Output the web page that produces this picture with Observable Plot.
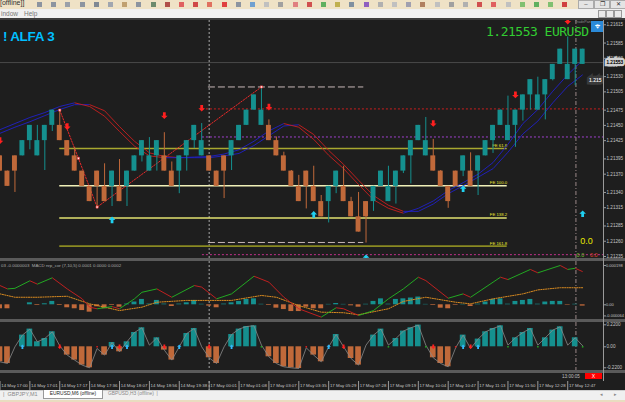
<!DOCTYPE html>
<html><head><meta charset="utf-8">
<script src="https://cdn.jsdelivr.net/npm/d3@7"></script>
<script src="https://cdn.jsdelivr.net/npm/@observablehq/plot@0.6"></script>
<style>
html,body{margin:0;padding:0;width:625px;height:402px;overflow:hidden;background:#1e1e1e;font-family:"Liberation Sans",Arial,sans-serif;}
.a{position:absolute;}
.wrap{position:absolute;left:0;width:625px;overflow:hidden;}
.wrap svg{display:block;background:transparent;}
</style></head><body>
<div class="a" style="left:0;top:0;width:625px;height:9px;background:#efe2c6;"></div>
<div class="a" id="icons" style="left:0;top:0;width:625px;height:9px;"></div>
<div class="a" style="left:0;top:-1px;font-size:7px;color:#333;">[offline]]</div>
<div class="a" style="left:578px;top:0;width:14px;height:7px;background:#e4e4e4;border:1px solid #aaa;font-size:6px;line-height:7px;text-align:center;color:#333;">–</div>
<div class="a" style="left:594px;top:0;width:14px;height:7px;background:#e4e4e4;border:1px solid #aaa;font-size:6px;line-height:7px;text-align:center;color:#333;">❐</div>
<div class="a" style="left:610px;top:0;width:14px;height:7px;background:#e4e4e4;border:1px solid #aaa;font-size:6px;line-height:7px;text-align:center;color:#333;">✕</div>
<div class="a" style="left:0;top:9px;width:625px;height:9px;background:#f0f0f0;"></div>
<div class="a" style="left:1px;top:10px;font-size:6.5px;color:#777;">indow</div>
<div class="a" style="left:24px;top:10px;font-size:6.5px;color:#777;">Help</div>
<div class="a" style="left:598px;top:10px;width:6px;height:6px;border:1px solid #999;background:#e8e8e8;"></div>
<div class="a" style="left:606px;top:10px;width:6px;height:6px;border:1px solid #999;background:#e8e8e8;"></div>
<div class="a" style="left:614px;top:10px;width:6px;height:6px;border:1px solid #999;background:#e8e8e8;"></div>
<div class="a" style="left:0;top:18px;width:625px;height:2px;background:#3c3c3c;"></div>

<div class="wrap" id="p1" style="top:20px;height:238px;"></div>
<div class="a" style="left:0;top:258px;width:625px;height:3px;background:#5a5a5a;"></div>
<div class="wrap" id="p2" style="top:261px;height:58px;"></div>
<div class="a" style="left:0;top:319px;width:625px;height:3px;background:#5a5a5a;"></div>
<div class="wrap" id="p3" style="top:322px;height:48px;"></div>
<div class="a" style="left:0;top:370px;width:625px;height:3px;background:#5a5a5a;"></div>
<div class="wrap" id="p4" style="top:381px;height:9px;"></div>
<div class="a" style="left:603px;top:20px;width:1px;height:361px;background:#9a9a9a;"></div>

<div class="a" style="left:3px;top:29px;font-size:13.5px;font-weight:bold;color:#00bfff;letter-spacing:-0.3px;">! ALFA 3</div>
<div class="a" style="left:486px;top:24px;font-size:13px;font-family:'DejaVu Sans Mono',monospace;color:#32cd32;letter-spacing:-0.5px;">1.21553 EURUSD</div>
<div class="a" style="left:575px;top:19.5px;font-size:3.6px;line-height:4px;color:#8a8a8a;">TradePan</div>
<div class="a" style="left:591px;top:21px;width:12px;height:11px;background:#2b8ad8;color:#fff;font-size:9px;line-height:11px;text-align:center;">⌖</div>
<div class="a" style="left:1px;top:263px;font-size:4.4px;color:#a8a8a8;white-space:nowrap;">03 -0.0000003 &nbsp;MACD nrp_cor (7,10,5) 0.0001 0.0000 0.0002</div>
<div class="a" style="left:562px;top:374px;font-size:4.6px;color:#c0c0c0;">13:00:05</div>
<div class="a" style="left:585px;top:373px;width:17px;height:6px;background:#f00;color:#fff;font-size:5px;line-height:6px;text-align:center;">X</div>

<div class="a" style="left:0;top:390px;width:625px;height:10px;background:#f0f0f0;border-top:1px solid #cfcfcf;"></div>
<div class="a" style="left:3px;top:391px;font-size:5.5px;color:#888;white-space:nowrap;">|&nbsp; GBPJPY,M1</div>
<div class="a" style="left:43px;top:390px;width:58px;height:8px;background:#fff;border:1px solid #999;border-top:none;font-size:4.9px;color:#222;text-align:center;line-height:8px;white-space:nowrap;">EURUSD,M6 (offline)</div>
<div class="a" style="left:108px;top:391px;font-size:4.9px;color:#888;white-space:nowrap;">GBPUSD,H3 (offline) &nbsp;|</div>
<div class="a" style="left:600px;top:391px;font-size:5px;color:#888;">◂</div>
<div class="a" style="left:614px;top:391px;font-size:5px;color:#888;">▸</div>
<div class="a" style="left:0;top:400px;width:625px;height:2px;background:#e9dcc0;"></div>

<script>
// ---------- DATA ----------
const candleOpen  = [1.21400,1.21375,1.21400,1.21400,1.21425,1.21400,1.21425,1.21450,1.21450,1.21425,1.21400,1.21375,1.21350,1.21375,1.21350,1.21350,1.21350,1.21350,1.21375,1.21400,1.21375,1.21400,1.21400,1.21375,1.21375,1.21400,1.21425,1.21400,1.21400,1.21375,1.21400,1.21400,1.21425,1.21450,1.21475,1.21450,1.21450,1.21425,1.21400,1.21375,1.21350,1.21375,1.21350,1.21325,1.21325,1.21350,1.21350,1.21325,1.21300,1.21325,1.21325,1.21350,1.21325,1.21350,1.21375,1.21400,1.21425,1.21400,1.21400,1.21375,1.21350,1.21375,1.21375,1.21375,1.21375,1.21400,1.21425,1.21450,1.21425,1.21450,1.21475,1.21500,1.21475,1.21500,1.21525,1.21550,1.21525,1.21550,1.21550];
const candleClose = [1.21375,1.21350,1.21375,1.21425,1.21450,1.21425,1.21450,1.21475,1.21425,1.21400,1.21375,1.21350,1.21325,1.21350,1.21325,1.21375,1.21325,1.21375,1.21400,1.21425,1.21400,1.21425,1.21375,1.21350,1.21400,1.21425,1.21450,1.21425,1.21375,1.21350,1.21375,1.21425,1.21450,1.21475,1.21500,1.21475,1.21425,1.21400,1.21375,1.21350,1.21325,1.21350,1.21325,1.21300,1.21350,1.21375,1.21325,1.21300,1.21275,1.21300,1.21350,1.21375,1.21350,1.21375,1.21400,1.21425,1.21450,1.21425,1.21375,1.21350,1.21325,1.21350,1.21400,1.21350,1.21400,1.21425,1.21450,1.21475,1.21450,1.21475,1.21500,1.21525,1.21500,1.21525,1.21550,1.21575,1.21550,1.21575,1.21575];
const candleHigh  = [1.21400,1.21375,1.21400,1.21425,1.21450,1.21450,1.21450,1.21475,1.21475,1.21425,1.21414,1.21375,1.21350,1.21375,1.21387,1.21375,1.21394,1.21375,1.21400,1.21425,1.21430,1.21425,1.21438,1.21390,1.21400,1.21425,1.21450,1.21453,1.21400,1.21375,1.21400,1.21425,1.21450,1.21475,1.21500,1.21513,1.21459,1.21431,1.21406,1.21376,1.21368,1.21375,1.21383,1.21335,1.21350,1.21375,1.21383,1.21332,1.21340,1.21325,1.21350,1.21375,1.21383,1.21375,1.21400,1.21425,1.21450,1.21463,1.21427,1.21376,1.21350,1.21375,1.21400,1.21405,1.21400,1.21425,1.21450,1.21475,1.21498,1.21475,1.21500,1.21525,1.21529,1.21525,1.21550,1.21575,1.21595,1.21575,1.21575];
const candleLow   = [1.21375,1.21350,1.21340,1.21400,1.21410,1.21400,1.21376,1.21440,1.21425,1.21400,1.21375,1.21350,1.21325,1.21316,1.21325,1.21317,1.21325,1.21317,1.21375,1.21390,1.21375,1.21375,1.21375,1.21350,1.21338,1.21375,1.21412,1.21400,1.21375,1.21350,1.21330,1.21376,1.21425,1.21450,1.21475,1.21450,1.21425,1.21400,1.21375,1.21350,1.21325,1.21313,1.21325,1.21300,1.21290,1.21338,1.21325,1.21300,1.21275,1.21257,1.21309,1.21350,1.21325,1.21321,1.21371,1.21354,1.21425,1.21400,1.21375,1.21350,1.21314,1.21350,1.21366,1.21350,1.21335,1.21400,1.21404,1.21450,1.21425,1.21414,1.21457,1.21475,1.21475,1.21459,1.21523,1.21550,1.21525,1.21515,1.21550];

const maIdx  = [0,2,4,6,8,10,12,14,16,18,20,22,24,26,28,30,32,34,36,38,40,42,44,46,48,50,52,54,56,58,60,62,64,66,68,70,72,74,76,78];
const maFast = [1.21443,1.21453,1.21463,1.21471,1.21481,1.21487,1.21481,1.21465,1.21440,1.21416,1.21400,1.21397,1.21397,1.21398,1.21399,1.21403,1.21410,1.21424,1.21441,1.21453,1.21447,1.21427,1.21401,1.21379,1.21353,1.21328,1.21314,1.21306,1.21314,1.21326,1.21343,1.21356,1.21370,1.21389,1.21419,1.21453,1.21476,1.21506,1.21533,1.21557];
const maSlow = [1.21437,1.21447,1.21456,1.21466,1.21476,1.21484,1.21484,1.21474,1.21448,1.21424,1.21405,1.21399,1.21397,1.21397,1.21397,1.21400,1.21404,1.21417,1.21433,1.21449,1.21451,1.21435,1.21409,1.21386,1.21360,1.21335,1.21319,1.21309,1.21309,1.21321,1.21338,1.21351,1.21365,1.21379,1.21406,1.21436,1.21457,1.21487,1.21514,1.21533];

const zigIdx   = [8, 10.5, 13, 35];
const zigPrice = [1.21475, 1.21396, 1.21316, 1.21513];

const sellIdx   = [0, 9, 22, 27, 36, 58, 69, 76];
const sellPrice = [1.21425, 1.21448, 1.21466, 1.21478, 1.21480, 1.21453, 1.21500, 1.21621];
const buyIdx    = [15, 42, 49, 62, 78];
const buyPrice  = [1.21295, 1.21304, 1.21233, 1.21346, 1.21305];

const dashPrice = [1.21513, 1.21258]; const dashFrom = 27.9; const dashTo = 48.7;
const dotPrice  = [1.21477, 1.21431, 1.21238]; const dotFrom = 27.1;
const feLabels  = ["FE 61.8", "FE 100.0", "FE 138.2", "FE 161.8"];
const fePrice   = [1.21412, 1.21351, 1.21298, 1.21252]; const feFrom = 8; const feTo = 67.9;

const priceTicks = [1.21615,1.21585,1.21560,1.21530,1.21505,1.21475,1.21450,1.21425,1.21395,1.21370,1.21340,1.21315,1.21285,1.21260,1.21235];
const bid = 1.21553;
const lineTag = 1.21530; // "1.215" callout

const daySepIdx = [28];
const markIdx = [77.1];

// MACD panel (values x 1e-6)
const macdIdx  = [0,1,2,4,5,7,9,11,12,13,15,16,18,19,21,23,26,27,29,31,34,36,38,40,43,45,46,48,50,52,54,56,57,60,62,63,67,68,71,72,75,76,77,78];
const macdMain = [97,80,83,121,104,136,80,30,-12,-20,-9,-20,30,63,80,38,97,89,30,55,144,114,38,-20,-62,-15,-20,-54,-29,30,80,139,122,33,55,38,139,127,178,161,198,178,184,167];
const sigIdx   = [0,2,5,9,12,16,19,21,25,28,31,35,37,40,43,46,48,52,54,57,61,63,66,70,72,75,78];
const sigVal   = [55,38,38,43,5,-29,-12,13,22,22,22,47,38,-4,-37,-40,-50,-20,17,38,13,5,30,55,75,86,86];
const osma     = [-20,-20,0,0,10,-3.5,5,17,-3.5,-15,-20,-29,-37,-10,-20,-3.5,-12,3.5,14,27,3.5,22,3.5,-8.5,3.5,10,22,2.5,-6.5,-15,3.5,10,17,27,30,2.5,-3.5,-17,-24,-34,-34,-12,-20,-20,2,6.5,2,-5,-12,2.5,17,30,3,27,30,34,39,2,-3.5,-17,-20,-3,2,-8.5,3,14,27,30,3,17,22,27,3,14,17,17,-2.5,2.5,-6.5];
const macdTicks = [198, 0, -56];
const macdTickLabels = ["0.000198", "0.00", "-0.000064"];

// Histogram panel
const hist = [-0.150,-0.167,0,0.117,0.177,0.050,0.083,0.150,0.010,-0.083,-0.133,-0.183,-0.210,-0.017,-0.083,0.043,-0.050,0.050,0.143,0.190,0.017,0.090,-0.033,-0.133,0,0.133,0.183,0,-0.110,-0.167,0,0.123,0.177,0.203,0.210,0.017,-0.100,-0.167,-0.200,-0.210,-0.217,-0.010,-0.083,-0.150,0,0.123,0,-0.117,-0.183,0.017,0.117,0.177,0.017,0.083,0.157,0.190,0.217,0.017,-0.110,-0.167,-0.200,-0.010,0.117,-0.017,0.077,0.150,0.183,0.210,0.017,0.090,0.143,0.183,0.017,0.090,0.167,0.200,0.017,0.090,0.010];
const histBuyIdx  = [3,15,17,24,31,44,62,64];
const histSellIdx = [8,16,22,28,46,58,63];
const histRedDot  = [13,41,61];
const histGreenDot= [35,52,57,68,72,78];
const histTicks = [0.22, 0, -0.21];
const histTickLabels = ["0.2200", "0.00", "-0.2200"];

// Time axis
const timeIdx = [0,4,8,12,16,20,24,28,32,36,40,44,48,52,56,60,64,68,72,76];
const timeLabels = ["14 May 17:00","14 May 17:01","14 May 17:17","14 May 17:36","14 May 18:07","14 May 18:56","14 May 19:38","17 May 00:01","17 May 01:08","17 May 03:07","17 May 03:35","17 May 05:29","17 May 07:28","17 May 09:19","17 May 10:04","17 May 10:47","17 May 11:13","17 May 11:50","17 May 12:28","17 May 12:47"];

// ---------- STYLE ----------
const BULL = "#15908f", BEAR = "#c0693a", MA_UP = "#2020c8", MA_DN = "#c81e1e";
const GREEN = "#22b822", RED = "#d02020", SELL = "#ff1f1f", BUY = "#20d0f0";
const X_DOMAIN = [0.067, 80.79];
const FONT = "'Liberation Sans',Arial,sans-serif";

// top-strip decoration
const iconColors = ["#8c94a0","#8c94a0","#9aa0aa","#8c94a0","#7f8894","#a0a6b0","#c0a070","#8c94a0","#6c8a6c","#b0504a","#e06060","#d04848","#e07060","#e04040","#8c94a0","#70a0d0","#c0c0c0","#a0a0a0","#e08080","#d05050","#60b060","#c0b050","#8090a0","#9060c0","#b0b0b0","#c0c0c0","#a0a0b0","#b08060","#c0c0c0","#a0a0a0","#b0b0b0","#d05050","#e06060","#c0c0c0","#80c070","#60b060","#80c070","#d04040"];
const iconsDiv = document.getElementById("icons");
iconColors.forEach((c, k) => {
  const d = document.createElement("div");
  d.style.cssText = `position:absolute;left:${37 + k * 14.2}px;top:2px;width:5px;height:5px;background:${c};`;
  iconsDiv.appendChild(d);
});

const segs = (xs, ys) => d3.range(xs.length - 1).map(k => ({x1: xs[k], y1: ys[k], x2: xs[k + 1], y2: ys[k + 1], up: ys[k + 1] >= ys[k]}));
const arrowDown = {draw(ctx, size) {const r = Math.sqrt(size / Math.PI), w = r * 0.42;
  ctx.moveTo(-w, -r); ctx.lineTo(w, -r); ctx.lineTo(w, 0); ctx.lineTo(r, 0); ctx.lineTo(0, r); ctx.lineTo(-r, 0); ctx.lineTo(-w, 0); ctx.closePath();}};
const arrowUp = {draw(ctx, size) {const r = Math.sqrt(size / Math.PI), w = r * 0.42;
  ctx.moveTo(-w, r); ctx.lineTo(w, r); ctx.lineTo(w, 0); ctx.lineTo(r, 0); ctx.lineTo(0, -r); ctx.lineTo(-r, 0); ctx.lineTo(-w, 0); ctx.closePath();}};

const candles = candleOpen.map((o, i) => ({i, o, c: candleClose[i], h: candleHigh[i], l: candleLow[i]}));
const col = d => d.c >= d.o ? BULL : BEAR;
const styleBase = {background: "transparent", color: "#c4c4c4", fontSize: "4.6px", fontFamily: FONT, overflow: "hidden"};
const axisOpts = {anchor: "right", tickSize: 2, tickPadding: 1, stroke: "#9a9a9a", fill: "#c4c4c4", fontSize: 4.6};

// ---------- PANEL 1 ----------
const p1 = Plot.plot({
  width: 625, height: 238, marginLeft: 0, marginRight: 22, marginTop: 0, marginBottom: 0,
  x: {domain: X_DOMAIN, axis: null},
  y: {domain: [1.212317, 1.21622], axis: null},
  style: styleBase,
  marks: [
    Plot.ruleY([bid], {stroke: "#4a4a4a"}),
    Plot.ruleX(daySepIdx, {stroke: "#a8a8a8", strokeDasharray: "2,2"}),
    Plot.ruleX(markIdx, {stroke: "#9a8888", strokeDasharray: "4,2,1,2"}),
    Plot.ruleY(dashPrice, {x1: dashFrom, x2: dashTo, stroke: "#c8b8b8", strokeDasharray: "7,3"}),
    Plot.ruleY(dotPrice, {x1: dotFrom, x2: X_DOMAIN[1], stroke: (d, k) => ["#c81e1e", "#a040d0", "#c0308a"][k], strokeDasharray: "2,2"}),
    Plot.ruleY(fePrice, {x1: feFrom, x2: feTo, stroke: (d, k) => ["#a8a830", "#f0f0b8", "#e2e270", "#8a8a22"][k], strokeWidth: 1.6}),
    Plot.text(fePrice, {x: feTo, y: d => d, text: (d, k) => feLabels[k], textAnchor: "end", dy: -3, fill: "#e8e830", fontSize: 4.3}),
    Plot.link(segs(maIdx, maSlow), {x1: "x1", y1: "y1", x2: "x2", y2: "y2", stroke: d => d.up ? MA_UP : MA_DN, strokeWidth: 0.9}),
    Plot.link(segs(maIdx, maFast), {x1: "x1", y1: "y1", x2: "x2", y2: "y2", stroke: d => d.up ? MA_UP : MA_DN, strokeWidth: 0.9}),
    Plot.line(zigIdx.map((x, k) => ({x, y: zigPrice[k]})), {x: "x", y: "y", stroke: "#ff2a2a", strokeDasharray: "1.5,1.5", strokeWidth: 0.9}),
    Plot.ruleX(candles, {x: "i", y1: "l", y2: "h", stroke: col, strokeWidth: 1}),
    Plot.rect(candles, {x1: d => d.i - 0.33, x2: d => d.i + 0.33, y1: "o", y2: "c", fill: col}),
    Plot.dot(zigIdx.map((x, k) => ({x, y: zigPrice[k]})), {x: "x", y: "y", symbol: "square", r: 1.2, fill: "#fff", stroke: "#ff3030", strokeWidth: 0.6}),
    Plot.dot(sellIdx.map((x, k) => ({x, y: sellPrice[k]})), {x: "x", y: "y", symbol: arrowDown, r: 3.3, fill: SELL}),
    Plot.dot(buyIdx.map((x, k) => ({x, y: buyPrice[k]})), {x: "x", y: "y", symbol: arrowUp, r: 3.3, fill: BUY}),
    Plot.axisY({...axisOpts, ticks: priceTicks, tickFormat: d3.format(".5f")}),
    Plot.text([bid], {x: X_DOMAIN[1], y: d => d, text: d => d.toFixed(5), textAnchor: "start", dx: 3, fill: "#111", stroke: "#d0d0d0", strokeWidth: 4.5, strokeLinejoin: "miter", fontSize: 4.6}),
    Plot.text([bid], {x: X_DOMAIN[1], y: d => d, text: d => d.toFixed(5), textAnchor: "start", dx: 3, fill: "#111", fontSize: 4.6}),
    Plot.text([lineTag], {x: X_DOMAIN[1], y: d => d, text: d => d.toFixed(3), textAnchor: "end", dx: -2, dy: 4, fill: "#d8d8d8", stroke: "#3a3a3a", strokeWidth: 5, strokeLinejoin: "miter", fontSize: 5}),
    Plot.text([lineTag], {x: X_DOMAIN[1], y: d => d, text: d => d.toFixed(3), textAnchor: "end", dx: -2, dy: 4, fill: "#d8d8d8", fontSize: 5}),
    Plot.text(["0.0"], {x: 78.5, y: 1.21260, text: d => d, fill: "#e8e800", fontSize: 9}),
    Plot.text(["0.0"], {x: 77.7, y: 1.21237, text: d => d, fill: "#6ec02a", fontSize: 5.5}),
    Plot.text(["0.0"], {x: 79.5, y: 1.21237, text: d => d, fill: "#e04020", fontSize: 5.5})
  ]
});
document.getElementById("p1").appendChild(p1);

// ---------- PANEL 2 (MACD) ----------
const p2 = Plot.plot({
  width: 625, height: 58, marginLeft: 0, marginRight: 22, marginTop: 0, marginBottom: 0,
  x: {domain: X_DOMAIN, axis: null},
  y: {domain: [-74, 218], axis: null},
  style: styleBase,
  marks: [
    Plot.ruleX(daySepIdx, {stroke: "#a8a8a8", strokeDasharray: "2,2"}),
    Plot.ruleX(markIdx, {stroke: "#9a8888", strokeDasharray: "4,2,1,2"}),
    Plot.rect(osma.map((v, i) => ({i, v})), {x1: d => d.i - 0.33, x2: d => d.i + 0.33, y1: 0, y2: "v", fill: d => d.v >= 0 ? BULL : BEAR}),
    Plot.line(sigIdx.map((x, k) => ({x, y: sigVal[k]})), {x: "x", y: "y", stroke: "#d88a20", strokeDasharray: "1.2,1.2", strokeWidth: 1}),
    Plot.link(segs(macdIdx, macdMain), {x1: "x1", y1: "y1", x2: "x2", y2: "y2", stroke: d => d.up ? GREEN : RED, strokeWidth: 0.9}),
    Plot.axisY({...axisOpts, ticks: macdTicks, tickFormat: (d, k) => macdTickLabels[k], fontSize: 4, tickPadding: 0.5})
  ]
});
document.getElementById("p2").appendChild(p2);

// ---------- PANEL 3 (histogram) ----------
const histData = hist.map((v, i) => ({i, v}));
const zeroPts = arr => arr.map(x => ({x, y: 0}));
const p3 = Plot.plot({
  width: 625, height: 48, marginLeft: 0, marginRight: 22, marginTop: 0, marginBottom: 0,
  x: {domain: X_DOMAIN, axis: null},
  y: {domain: [-0.237, 0.243], axis: null},
  style: styleBase,
  marks: [
    Plot.ruleX(daySepIdx, {stroke: "#a8a8a8", strokeDasharray: "2,2"}),
    Plot.ruleX(markIdx, {stroke: "#9a8888", strokeDasharray: "4,2,1,2"}),
    Plot.rect(histData.filter(d => Math.abs(d.v) > 0.02), {x1: d => d.i - 0.38, x2: d => d.i + 0.38, y1: 0, y2: "v", fill: d => d.v >= 0 ? BULL : BEAR}),
    Plot.line(histData, {x: "i", y: "v", stroke: "#8a8a8a", strokeWidth: 0.8}),
    Plot.dot(zeroPts(histRedDot), {x: "x", y: "y", symbol: "square", r: 0.9, fill: "#d02020"}),
    Plot.dot(zeroPts(histGreenDot), {x: "x", y: "y", symbol: "square", r: 0.9, fill: "#22a022"}),
    Plot.dot(zeroPts(histSellIdx), {x: "x", y: "y", symbol: arrowDown, r: 2.2, fill: SELL}),
    Plot.dot(zeroPts(histBuyIdx), {x: "x", y: "y", symbol: arrowUp, r: 2.2, fill: "#30b8f8"}),
    Plot.axisY({...axisOpts, ticks: histTicks, tickFormat: (d, k) => histTickLabels[k]})
  ]
});
document.getElementById("p3").appendChild(p3);

// ---------- TIME AXIS ----------
const p4 = Plot.plot({
  width: 625, height: 9, marginLeft: 0, marginRight: 22, marginTop: 0, marginBottom: 0,
  x: {domain: X_DOMAIN, axis: null},
  style: styleBase,
  marks: [
    Plot.ruleX(daySepIdx, {stroke: "#a8a8a8", strokeDasharray: "2,2"}),
    Plot.tickX(timeIdx, {x: d => d, stroke: "#9a9a9a"}),
    Plot.text(timeIdx, {x: d => d, text: (d, k) => timeLabels[k], textAnchor: "start", dx: 1.2, frameAnchor: "middle", fill: "#c4c4c4", fontSize: 4.4})
  ]
});
document.getElementById("p4").appendChild(p4);
</script>
</body></html>
